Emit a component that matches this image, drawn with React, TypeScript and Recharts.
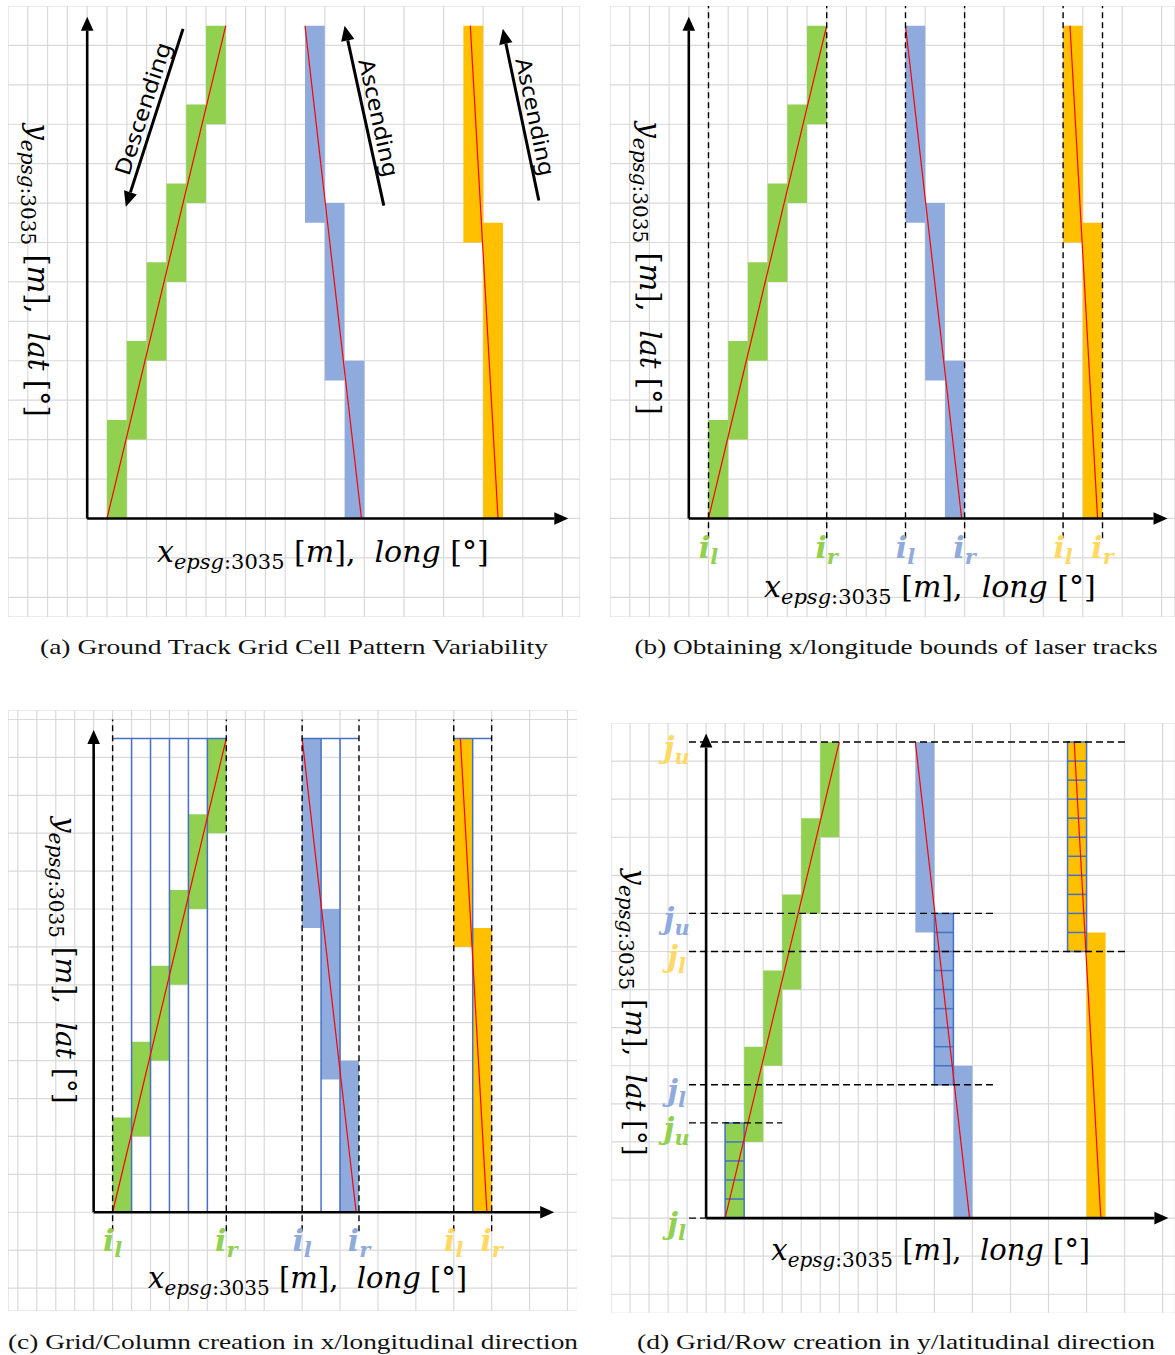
import React from 'react';
import { CartesianGrid, ComposedChart, ReferenceArea, ReferenceDot, ReferenceLine, XAxis, YAxis } from 'recharts';

// All values in grid cells, origin where the two axes cross.
const greenCols = [1, 2, 3, 4, 5, 6];
const greenBottoms = [0, 4, 8, 12, 16, 20];
const greenTops = [5, 9, 13, 17, 21, 25];
const blueCols = [11, 12, 13];
const blueBottoms = [15, 7, 0];
const blueTops = [25, 16, 8];
const orangeCols = [19, 20];
const orangeBottoms = [14, 0];
const orangeTops = [25, 15];

// red laser track centre lines
const greenTrack = [{ x: 1, y: 0 }, { x: 7, y: 25 }];
const blueTrack = [{ x: 11, y: 25 }, { x: 13.85, y: 0 }];
const orangeTrack = [{ x: 19.35, y: 25 }, { x: 20.75, y: 0 }];

// (b)/(c) x bounds of the tracks
const boundX = [1, 7, 11, 14, 19, 21];
const boundSub = ['l', 'r', 'l', 'r', 'l', 'r'];
const boundTrack = ['green', 'green', 'blue', 'blue', 'orange', 'orange'];

// (c) column split lines + top edge of every bounded strip
const columnSplits = [2, 3, 4, 5, 6, 12, 13, 20];
const stripFrom = [1, 11, 19];
const stripTo = [7, 14, 21];

// (d) y bounds of the tracks
const rowBoundY = [25, 16, 14, 7, 5, 0];
const rowBoundSub = ['u', 'u', 'l', 'l', 'u', 'l'];
const rowBoundTrack = ['orange', 'blue', 'orange', 'blue', 'green', 'green'];
const rowBoundEnd = [22.1, 15.1, 22.1, 15.1, 4, 0];

// (d) cells split into rows
const splitCol = [1, 12, 19];
const splitBottom = [0, 7, 14];
const splitTop = [5, 16, 25];

// (a) direction arrows
const directionText = ['Descending', 'Ascending', 'Ascending'];
const directionFrom = [{ x: 4.84, y: 24.84 }, { x: 14.98, y: 15.87 }, { x: 22.81, y: 16.13 }];
const directionTo = [{ x: 1.95, y: 15.82 }, { x: 13.0, y: 25.0 }, { x: 20.99, y: 24.84 }];

const captions = [
  '(a) Ground Track Grid Cell Pattern Variability',
  '(b) Obtaining x/longitude bounds of laser tracks',
  '(c) Grid/Column creation in x/longitudinal direction',
  '(d) Grid/Row creation in y/latitudinal direction',
];

const FILL: Record<string, string> = { green: '#92d050', blue: '#8faadc', orange: '#ffc000' };
const INK: Record<string, string> = { green: '#92d050', blue: '#8faadc', orange: '#ffd966' };
const SPLIT = '#4472c4';
const MATH = "'DejaVu Serif', serif";

const range = (a: number, b: number) => {
  const out: number[] = [];
  for (let i = a; i <= b; i++) out.push(i);
  return out;
};

const arrowShape = (width: number, head: number, text?: string, textLength?: number) => (p: any) => {
  const { x1, y1, x2, y2 } = p;
  const dx = x2 - x1;
  const dy = y2 - y1;
  const len = Math.hypot(dx, dy) || 1;
  const ux = dx / len;
  const uy = dy / len;
  const bx = x2 - ux * head;
  const by = y2 - uy * head;
  const hw = head * 0.45;
  const pts = `${x2},${y2} ${bx - uy * hw},${by + ux * hw} ${bx + uy * hw},${by - ux * hw}`;
  let note = null;
  if (text) {
    const rx = dx >= 0 ? ux : -ux;
    const ry = dx >= 0 ? uy : -uy;
    const ang = (Math.atan2(ry, rx) * 180) / Math.PI;
    const tx = (x1 + x2) / 2 + ry * 6 + rx * 5;
    const ty = (y1 + y2) / 2 - rx * 6 + ry * 5;
    note = (
      <text x={tx} y={ty} textAnchor="middle" fontFamily="'Noto Sans', sans-serif" fontSize={22}
        textLength={textLength} lengthAdjust="spacingAndGlyphs" transform={`rotate(${ang} ${tx} ${ty})`}>
        {text}
      </text>
    );
  }
  return (
    <g>
      <line x1={x1} y1={y1} x2={bx} y2={by} stroke="#000" strokeWidth={width} />
      <polygon points={pts} fill="#000" />
      {note}
    </g>
  );
};

const mathTitle = (axis: 'x' | 'y', size: number) => (p: any) => {
  const vertical = axis === 'y';
  const x = vertical ? p.cx - 10 : p.cx;
  const y = vertical ? p.cy : p.cy + 10;
  const sub = Math.round(size * 0.7);
  return (
    <text x={x} y={y} textAnchor="middle" fontFamily={MATH} fontSize={size} fill="#000"
      style={{ whiteSpace: 'pre' }} transform={vertical ? `rotate(90 ${x} ${y})` : undefined}>
      <tspan fontStyle="italic">{axis}</tspan>
      <tspan fontStyle="italic" fontSize={sub} dy={7}>epsg</tspan>
      <tspan fontSize={sub}>:3035</tspan>
      <tspan dy={-7}> [</tspan>
      <tspan fontStyle="italic">m</tspan>
      <tspan>],  </tspan>
      <tspan fontStyle="italic">{axis === 'x' ? 'long' : 'lat'}</tspan>
      <tspan> [°]</tspan>
    </text>
  );
};

const indexLabel = (letter: string, sub: string, color: string) => (p: any) => (
  <text x={p.cx} y={p.cy + 10} textAnchor="middle" fontFamily={MATH} fontWeight="bold" fontStyle="italic"
    fontSize={30} fill={color}>
    {letter}
    <tspan fontSize={21} dy={6}>{sub}</tspan>
  </text>
);

const trackCells = () => [
  ...greenCols.map((c, i) => (
    <ReferenceArea key={`g${i}`} x1={c} x2={c + 1} y1={greenBottoms[i]} y2={greenTops[i]} fill={FILL.green} fillOpacity={1} stroke="none" />
  )),
  ...blueCols.map((c, i) => (
    <ReferenceArea key={`b${i}`} x1={c} x2={c + 1} y1={blueBottoms[i]} y2={blueTops[i]} fill={FILL.blue} fillOpacity={1} stroke="none" />
  )),
  ...orangeCols.map((c, i) => (
    <ReferenceArea key={`o${i}`} x1={c} x2={c + 1} y1={orangeBottoms[i]} y2={orangeTops[i]} fill={FILL.orange} fillOpacity={1} stroke="none" />
  )),
];

const trackLines = () =>
  [greenTrack, blueTrack, orangeTrack].map((seg, i) => (
    <ReferenceLine key={`t${i}`} segment={seg} stroke="#ff0000" strokeWidth={1.2} />
  ));

const axes = () => [
  <ReferenceLine key="ax" segment={[{ x: 0, y: 0 }, { x: 24.3, y: 0 }]} shape={arrowShape(2.6, 14)} />,
  <ReferenceLine key="ay" segment={[{ x: 0, y: 0 }, { x: 0, y: 25.45 }]} shape={arrowShape(2.6, 14)} />,
];

const boundLines = () => [
  ...boundX.map((x, i) => (
    <ReferenceLine key={`d${i}`} segment={[{ x, y: -1 }, { x, y: 26 }]} stroke="#000" strokeWidth={1.4} strokeDasharray="6 4" />
  )),
  ...boundX.map((x, i) => (
    <ReferenceDot key={`dl${i}`} x={x} y={-1.5} r={0} shape={indexLabel('i', boundSub[i], INK[boundTrack[i]])} />
  )),
];

type Box = { left: number; top: number; width: number; height: number };

function Panel({ box, xDomain, yDomain, children }: { box: Box; xDomain: [number, number]; yDomain: [number, number]; children: React.ReactNode }) {
  return (
    <div style={{ position: 'absolute', left: box.left, top: box.top }}>
      <ComposedChart width={box.width} height={box.height} data={[]} margin={{ top: 0, right: 0, bottom: 0, left: 0 }}>
        <XAxis type="number" dataKey="x" domain={xDomain} ticks={range(Math.ceil(xDomain[0]), Math.floor(xDomain[1]))} hide allowDataOverflow />
        <YAxis type="number" dataKey="y" domain={yDomain} ticks={range(Math.ceil(yDomain[0]), Math.floor(yDomain[1]))} hide allowDataOverflow />
        <CartesianGrid stroke="#d9d9d9" strokeWidth={1.2} />
        {children}
      </ComposedChart>
    </div>
  );
}

export default function App() {
  return (
    <div style={{ position: 'absolute', left: 0, top: 0, width: 1175, height: 1355, background: '#fff' }}>
      <svg width={1175} height={1355} style={{ position: 'absolute', left: 0, top: 0 }}>
        {[
          [294, 654, 508],
          [896, 654, 523],
          [293, 1349, 570],
          [896, 1349, 518],
        ].map(([cx, y, w], i) => (
          <text key={i} x={cx} y={y} textAnchor="middle" fontFamily="'Liberation Serif', serif" fontSize={22}
            textLength={w} lengthAdjust="spacingAndGlyphs" fill="#111">
            {captions[i]}
          </text>
        ))}
      </svg>

      {/* (a) */}
      <Panel box={{ left: 8.3, top: 5.8, width: 572, height: 611 }} xDomain={[-4, 24.89]} yDomain={[-5, 26]}>
        {trackCells()}
        {trackLines()}
        {axes()}
        {directionText.map((t, i) => (
          <ReferenceLine key={`dir${i}`} segment={[directionFrom[i], directionTo[i]]}
            shape={arrowShape(3, 15, t, i === 0 ? 138 : 120)} />
        ))}
        <ReferenceDot x={11.9} y={-1.7} r={0} shape={mathTitle('x', 30)} />
        <ReferenceDot x={-2.49} y={12.6} r={0} shape={mathTitle('y', 29)} />
      </Panel>

      {/* (b) */}
      <Panel box={{ left: 610.1, top: 5.8, width: 565, height: 611 }} xDomain={[-4, 24.68]} yDomain={[-5, 26]}>
        {trackCells()}
        {trackLines()}
        {boundLines()}
        {axes()}
        <ReferenceDot x={12.24} y={-3.49} r={0} shape={mathTitle('x', 30)} />
        <ReferenceDot x={-1.97} y={12.7} r={0} shape={mathTitle('y', 29)} />
      </Panel>

      {/* (c) */}
      <Panel box={{ left: 7.5, top: 710, width: 569.5, height: 601 }} xDomain={[-4.52, 25.53]} yDomain={[-5.21, 26.5]}>
        {trackCells()}
        {columnSplits.map((x, i) => (
          <ReferenceLine key={`cs${i}`} segment={[{ x, y: 0 }, { x, y: 25 }]} stroke={SPLIT} strokeWidth={1.5} />
        ))}
        {stripFrom.map((x, i) => (
          <ReferenceLine key={`st${i}`} segment={[{ x, y: 25 }, { x: stripTo[i], y: 25 }]} stroke={SPLIT} strokeWidth={1.5} />
        ))}
        {trackLines()}
        {boundLines()}
        {axes()}
        <ReferenceDot x={11.29} y={-3.47} r={0} shape={mathTitle('x', 29)} />
        <ReferenceDot x={-1.48} y={13.3} r={0} shape={mathTitle('y', 28)} />
      </Panel>

      {/* (d) */}
      <Panel box={{ left: 610.6, top: 722.7, width: 564.4, height: 590.3 }} xDomain={[-5, 24.67]} yDomain={[-5, 26]}>
        {trackCells()}
        {splitCol.map((x, i) => (
          <ReferenceArea key={`sc${i}`} x1={x} x2={x + 1} y1={splitBottom[i]} y2={splitTop[i]} fill="none" fillOpacity={0} stroke={SPLIT} strokeWidth={1.5} />
        ))}
        {splitCol.flatMap((x, i) =>
          range(splitBottom[i] + 1, splitTop[i] - 1).map((y) => (
            <ReferenceLine key={`sr${i}-${y}`} segment={[{ x, y }, { x: x + 1, y }]} stroke={SPLIT} strokeWidth={1.5} />
          )),
        )}
        {trackLines()}
        {rowBoundY.map((y, i) => (
          <ReferenceLine key={`rb${i}`} segment={[{ x: -0.9, y }, { x: rowBoundEnd[i], y }]} stroke="#000" strokeWidth={1.4} strokeDasharray="7 4" />
        ))}
        {axes()}
        {rowBoundY.map((y, i) => (
          <ReferenceDot key={`rl${i}`} x={-1.55} y={y - 0.3} r={0} shape={indexLabel('j', rowBoundSub[i], INK[rowBoundTrack[i]])} />
        ))}
        <ReferenceDot x={11.81} y={-1.68} r={0} shape={mathTitle('x', 29)} />
        <ReferenceDot x={-3.71} y={10.8} r={0} shape={mathTitle('y', 28)} />
      </Panel>
    </div>
  );
}
